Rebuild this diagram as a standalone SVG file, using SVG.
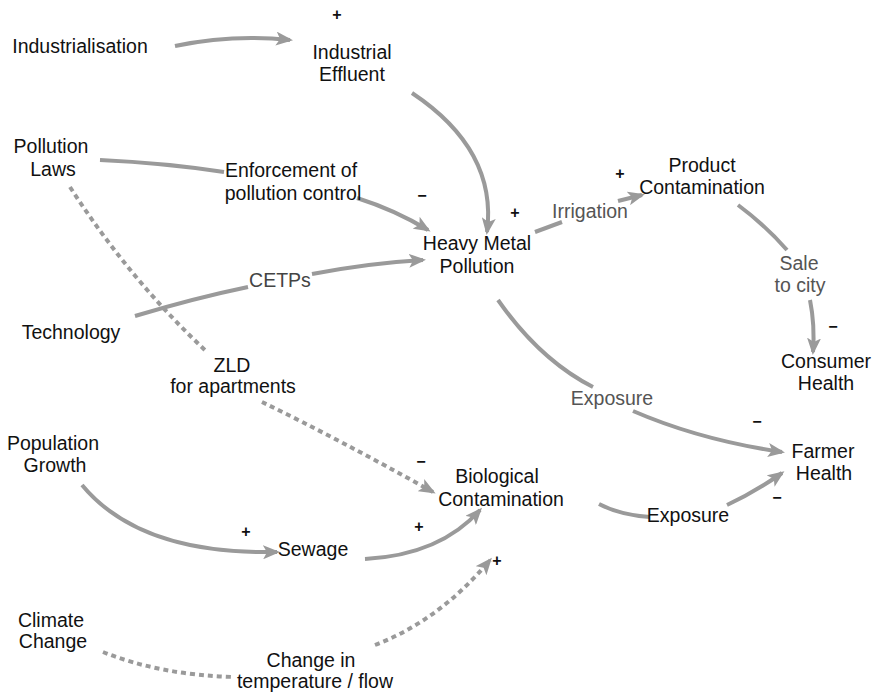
<svg xmlns="http://www.w3.org/2000/svg" width="872" height="693" viewBox="0 0 872 693">
<style>
text{font-family:"Liberation Sans",Arial,sans-serif;font-size:19.5px;fill:#111;text-anchor:middle}
.lbl{fill:#555}
.sign{font-size:16px;fill:#111;font-weight:bold}
.c{fill:none;stroke:#9a9a9a;stroke-width:4}
.a{marker-end:url(#ah)}
.d{stroke-dasharray:5 4}
</style>
<defs>
<marker id="ah" markerUnits="userSpaceOnUse" markerWidth="18" markerHeight="14" refX="14" refY="7" orient="auto">
<path d="M0,0 L17,7 L0,14 L4,7 z" fill="#9a9a9a"/>
</marker>
</defs>
<rect width="872" height="693" fill="#fff"/>
<g id="connectors">
<path class="c a" d="M175,46 Q232,34 290,40"/>
<path class="c a" d="M412,93 C460,125 495,170 487,232"/>
<path class="c" d="M100,160 Q165,163 224,172"/>
<path class="c a" d="M357,198 Q395,210 428,230"/>
<path class="c" d="M135,316 Q195,298 248,287"/>
<path class="c a" d="M312,274 Q370,263 423,260"/>
<path class="c" d="M535,232 L562,222"/>
<path class="c a" d="M618,201 L642,195"/>
<path class="c" d="M738,205 Q765,225 787,250"/>
<path class="c a" d="M810,300 Q815,325 813,352"/>
<path class="c" d="M498,300 Q540,360 593,387"/>
<path class="c a" d="M633,411 Q700,440 782,452"/>
<path class="c" d="M599,504 Q620,515 650,517"/>
<path class="c a" d="M727,505 Q755,492 782,473"/>
<path class="c d" d="M70,187 Q130,280 207,352"/>
<path class="c d a" d="M262,402 Q340,440 433,492"/>
<path class="c a" d="M82,485 Q140,555 277,552"/>
<path class="c a" d="M365,559 Q440,555 480,510"/>
<path class="c d" d="M103,652 Q160,675 235,677"/>
<path class="c d a" d="M375,645 Q440,620 490,560"/>
</g>
<g id="labels">
<text class="lbl" x="590" y="218">Irrigation</text>
<text class="lbl" x="799" y="270">Sale</text>
<text class="lbl" x="800" y="292">to city</text>
<text class="lbl" x="612" y="405">Exposure</text>
<text x="688" y="522" fill="#222">Exposure</text>
<text class="lbl" x="280" y="287" style="fill:#444">CETPs</text>
<text x="232" y="372">ZLD</text>
<text x="233" y="393">for apartments</text>
<text x="311" y="667">Change in</text>
<text x="315" y="688">temperature / flow</text>
<text x="291" y="177">Enforcement of</text>
<text x="293" y="200">pollution control</text>
</g>
<g id="signs">
<text class="sign" x="337" y="20">+</text>
<text class="sign" x="422" y="201">−</text>
<text class="sign" x="515" y="218">+</text>
<text class="sign" x="620" y="179">+</text>
<text class="sign" x="833" y="332">−</text>
<text class="sign" x="757" y="427">−</text>
<text class="sign" x="777" y="503">−</text>
<text class="sign" x="421" y="467">−</text>
<text class="sign" x="246" y="537">+</text>
<text class="sign" x="419" y="532">+</text>
<text class="sign" x="497" y="566">+</text>
</g>
<g id="n-industrialisation"><text x="80" y="53">Industrialisation</text></g>
<g id="n-effluent"><text x="352" y="59">Industrial</text><text x="352" y="81">Effluent</text></g>
<g id="n-laws"><text x="51" y="153">Pollution</text><text x="53" y="176">Laws</text></g>
<g id="n-hmp"><text x="477" y="250">Heavy Metal</text><text x="477" y="273">Pollution</text></g>
<g id="n-product"><text x="702" y="172">Product</text><text x="702" y="194">Contamination</text></g>
<g id="n-consumer"><text x="826" y="368">Consumer</text><text x="826" y="390">Health</text></g>
<g id="n-technology"><text x="71" y="339">Technology</text></g>
<g id="n-farmer"><text x="823" y="458">Farmer</text><text x="824" y="480">Health</text></g>
<g id="n-population"><text x="53" y="450">Population</text><text x="55" y="472">Growth</text></g>
<g id="n-bio"><text x="497" y="483">Biological</text><text x="501" y="506">Contamination</text></g>
<g id="n-sewage"><text x="313" y="556">Sewage</text></g>
<g id="n-climate"><text x="51" y="627">Climate</text><text x="53" y="648">Change</text></g>
</svg>
